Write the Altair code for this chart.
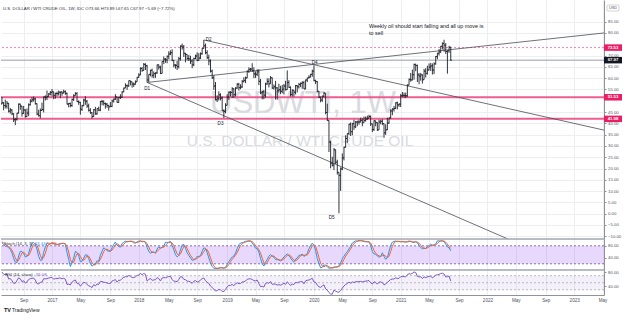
import altair as alt
import pandas as pd

FONT = "Liberation Sans"
GRID = "#eceef2"
AXIS = "#8f929b"
LABEL = "#50535e"
BAR = "#1b1e27"
PINK = "#ef5d8f"
PINK_BOX = "#e91e63"
W = 603

# ---------------- weekly USDWTI bars (Monday weeks) ----------------
first_week = "2016-02-01"
first_open = 33.6

high_pre = [34.0, 31.8, 31.5, 33.5, 36.2, 38.8, 40.5, 41.9, 39.8, 39.9, 42.4, 44.5, 46.8, 46.7, 46.6, 48.8, 50.2]
low_pre = [29.9, 26.1, 28.6, 29.3, 32.5, 35.3, 36.0, 38.8, 35.9, 35.2, 39.6, 37.6, 42.6, 43.0, 43.3, 46.0, 47.5]
close_pre = [30.9, 29.4, 29.6, 32.8, 35.9, 38.5, 39.4, 39.5, 36.8, 39.7, 40.4, 43.7, 45.9, 44.7, 46.2, 47.8, 49.3]

high_2016 = [50.2, 51.7, 49.4, 50.5, 49.9, 49.0, 46.8, 46.3, 44.5, 42.3, 44.6, 48.8, 48.7, 47.8, 47.7, 46.3, 46.6, 48.8, 50.7, 51.6, 51.9, 51.3, 48.8, 46.0, 46.6, 49.2, 51.8, 52.4, 54.5, 53.4, 54.3]
low_2016 = [47.8, 48.5, 45.8, 46.6, 46.5, 44.8, 44.3, 43.6, 40.6, 39.2, 41.2, 44.4, 46.0, 43.0, 44.2, 42.5, 42.9, 43.2, 47.9, 49.3, 49.6, 48.3, 43.6, 43.0, 42.2, 45.6, 44.8, 50.1, 50.3, 51.8, 52.4]
close_2016 = [48.6, 49.1, 47.9, 47.6, 48.9, 45.4, 45.9, 44.2, 41.6, 41.8, 44.5, 48.5, 47.6, 44.4, 45.9, 43.0, 44.5, 48.2, 49.8, 50.4, 50.8, 48.7, 44.1, 43.4, 45.7, 46.1, 51.7, 51.5, 51.9, 53.0, 53.7]

high_2017 = [55.2, 54.0, 53.6, 54.0, 54.5, 54.0, 54.1, 54.9, 54.6, 53.6, 49.0, 49.2, 50.9, 52.9, 53.8, 53.8, 50.2, 49.5, 48.2, 50.9, 52.0, 50.3, 48.7, 46.7, 44.9, 46.3, 47.3, 46.6, 47.4, 49.9, 50.4, 50.2, 49.2, 49.0, 48.2, 49.4, 50.5, 51.0, 52.9, 51.7, 51.7, 52.9, 54.2, 55.8, 57.7, 57.2, 58.9, 58.8, 58.4, 58.1, 59.0, 60.5]
low_2017 = [51.9, 50.7, 50.9, 51.9, 52.3, 51.2, 52.2, 53.3, 52.6, 48.4, 47.1, 47.1, 47.3, 49.9, 52.2, 49.5, 48.2, 43.8, 45.5, 47.6, 48.2, 46.9, 45.2, 44.2, 42.1, 42.8, 43.8, 43.8, 45.4, 45.4, 48.0, 47.9, 46.5, 46.9, 45.6, 47.3, 47.2, 49.2, 50.4, 49.1, 49.1, 50.8, 51.3, 53.8, 55.6, 54.8, 56.1, 56.8, 55.8, 56.1, 57.1, 58.7]
close_2017 = [54.0, 52.4, 53.2, 53.2, 53.8, 53.9, 53.4, 54.0, 53.3, 48.5, 48.8, 47.9, 50.6, 52.2, 53.2, 49.6, 49.3, 46.2, 47.8, 50.3, 49.8, 47.7, 45.8, 44.7, 43.0, 46.0, 44.2, 46.5, 45.8, 49.7, 49.6, 48.8, 48.5, 47.9, 47.3, 47.5, 49.9, 50.7, 51.7, 49.3, 51.5, 51.5, 53.9, 55.6, 56.7, 56.6, 58.9, 58.4, 57.4, 57.3, 58.4, 60.4]

high_2018 = [62.2, 64.8, 64.9, 66.7, 66.6, 65.9, 61.7, 63.7, 64.2, 63.0, 62.6, 66.0, 66.0, 65.5, 67.5, 69.6, 68.9, 70.0, 71.9, 72.3, 72.8, 68.0, 66.2, 67.6, 69.4, 74.5, 75.3, 74.7, 71.2, 70.0, 70.3, 69.9, 68.4, 69.1, 70.4, 71.4, 71.1, 71.4, 73.3, 76.9, 75.3, 72.4, 70.4, 68.3, 63.8, 61.3, 58.3, 52.4, 54.2, 53.3, 51.9, 46.2, 48.9]
low_2018 = [60.1, 61.3, 62.8, 63.4, 63.6, 58.1, 58.2, 60.8, 60.2, 60.0, 60.1, 61.9, 63.8, 61.8, 62.1, 66.2, 66.8, 66.6, 68.4, 70.2, 67.5, 64.8, 64.2, 63.6, 64.3, 67.8, 72.6, 69.4, 67.0, 67.9, 67.6, 66.3, 64.4, 65.3, 68.4, 67.5, 67.7, 68.5, 70.4, 73.1, 70.6, 68.5, 65.7, 62.5, 59.6, 54.8, 50.2, 49.4, 50.1, 50.2, 45.5, 42.4, 44.4]
close_2018 = [61.4, 64.3, 63.4, 66.1, 65.5, 59.2, 61.7, 63.5, 61.2, 62.0, 62.3, 65.9, 64.9, 62.1, 67.4, 68.4, 68.1, 69.7, 70.7, 71.3, 67.9, 65.8, 65.7, 65.1, 68.6, 74.2, 73.8, 71.0, 70.5, 68.7, 68.5, 67.6, 65.9, 68.7, 69.8, 67.8, 68.9, 70.8, 73.2, 74.3, 71.3, 69.1, 67.6, 63.1, 60.2, 56.5, 50.4, 50.9, 52.6, 51.2, 45.6, 45.3, 48.0]

high_2019 = [52.9, 54.0, 54.2, 56.0, 55.5, 56.0, 57.8, 57.9, 57.3, 59.2, 60.4, 60.7, 63.4, 64.8, 64.5, 66.6, 64.8, 63.0, 63.9, 64.0, 59.7, 54.5, 54.8, 58.0, 59.9, 59.9, 60.9, 60.3, 57.2, 58.8, 56.0, 57.5, 56.6, 57.0, 57.4, 58.8, 63.4, 59.1, 56.4, 55.0, 54.7, 57.0, 56.9, 57.9, 58.1, 58.6, 58.8, 59.4, 60.2, 61.3, 61.9, 63.8]
low_2019 = [48.0, 50.4, 51.9, 51.3, 51.2, 51.9, 55.3, 54.5, 55.1, 55.7, 58.1, 57.8, 60.0, 62.3, 63.0, 62.8, 60.0, 60.1, 60.9, 56.9, 52.9, 50.6, 50.7, 51.4, 57.1, 55.9, 57.6, 55.3, 55.0, 50.5, 50.5, 53.6, 52.9, 53.3, 52.8, 54.5, 57.9, 55.7, 51.9, 51.9, 51.8, 52.8, 53.7, 55.4, 56.0, 55.3, 55.2, 55.3, 58.3, 59.9, 60.4, 60.6]
close_2019 = [51.6, 53.8, 53.7, 55.3, 52.7, 55.6, 57.3, 55.8, 56.1, 58.5, 59.0, 60.1, 63.1, 63.9, 64.0, 63.3, 61.9, 61.7, 62.8, 58.6, 53.5, 54.0, 52.5, 57.4, 58.5, 57.5, 60.2, 55.6, 56.2, 55.7, 54.5, 54.9, 54.2, 55.1, 56.5, 54.9, 58.1, 55.9, 52.8, 54.7, 53.8, 56.7, 56.2, 57.2, 57.7, 58.0, 55.2, 59.2, 60.1, 60.4, 61.7, 63.1]

high_2020 = [65.6, 59.3, 58.7, 54.3, 51.8, 52.3, 54.0, 53.4, 48.7, 34.6, 32.3, 25.2, 29.1, 28.4, 23.9, 18.3, 20.5, 26.7, 29.7, 34.7, 35.5, 39.8, 40.4, 40.2, 41.6, 41.0, 41.2, 41.7, 42.5, 42.2, 43.0, 43.0, 43.4, 43.8, 43.5, 39.9, 41.4, 41.2, 40.5, 41.6, 41.6, 41.8, 40.0, 39.6, 42.5, 42.5, 46.3, 46.7, 47.7, 49.3, 49.6, 48.8]
low_2020 = [58.6, 57.4, 53.8, 51.2, 49.3, 49.5, 51.5, 44.0, 41.1, 27.3, 20.1, 20.9, 19.3, 22.0, 17.3, 0.2, 10.1, 19.3, 23.6, 29.3, 31.4, 34.8, 34.4, 34.7, 37.1, 37.9, 38.7, 39.4, 40.4, 38.7, 40.3, 40.8, 41.5, 42.2, 38.8, 36.1, 36.6, 38.7, 36.6, 37.2, 39.6, 39.2, 33.6, 34.9, 37.0, 39.8, 42.1, 43.6, 45.2, 46.3, 46.2, 47.3]
close_2020 = [59.0, 58.5, 54.2, 51.6, 50.3, 52.0, 53.4, 44.8, 41.3, 31.7, 22.4, 21.5, 28.3, 22.8, 18.3, 17.0, 19.8, 24.7, 29.4, 33.3, 35.5, 39.6, 36.3, 39.8, 38.5, 40.6, 40.6, 40.6, 41.3, 40.3, 41.2, 42.0, 42.3, 43.0, 39.8, 37.3, 41.1, 40.3, 37.1, 40.6, 40.9, 39.9, 35.8, 37.1, 40.1, 42.4, 45.5, 46.3, 46.6, 49.1, 48.2, 48.5]

high_2021 = [53.0, 53.9, 53.6, 53.6, 57.3, 59.8, 62.3, 63.8, 66.4, 66.4, 66.0, 62.3, 62.3, 61.7, 64.1, 64.4, 65.5, 66.5, 66.7, 66.5, 67.0, 69.8, 71.2, 72.9, 74.3, 75.8, 77.0, 75.5, 72.3, 74.3, 73.89]
low_2021 = [47.2, 51.6, 51.4, 51.2, 51.7, 56.9, 58.4, 59.0, 59.3, 63.1, 58.3, 57.3, 58.9, 57.6, 59.3, 60.3, 61.6, 63.5, 63.2, 61.6, 61.8, 66.0, 68.4, 70.0, 71.2, 72.7, 71.7, 70.7, 62.0, 71.2, 67.65]
close_2021 = [52.2, 52.4, 52.3, 52.2, 56.9, 59.5, 59.2, 61.5, 66.1, 65.6, 61.4, 60.9, 61.5, 59.3, 63.1, 62.1, 63.6, 64.9, 65.4, 63.6, 66.3, 69.6, 71.0, 71.6, 74.1, 75.4, 74.6, 71.8, 72.1, 73.66, 67.97]

# horizontal levels and their labels
level_dashed = [73.53]
level_last = [67.97]
level_zones = [51.53, 41.98]

# price-axis tick values (75 and 50 sit under the level labels)
price_ticks = [-10, -5, 0, 5, 10, 15, 20, 25, 30, 35, 40, 45, 55, 60, 65, 70, 80, 85]

# trend lines (start date, start price, end date, end price)
trend_start_dates = ["2018-10-01", "2018-02-05", "2018-02-05"]
trend_start_prices = [76.9, 58.1, 58.1]
trend_end_dates = ["2023-05-07", "2023-05-07", "2022-03-30"]
trend_end_prices = [37.0, 80.0, -11.2]

# swing point labels
d_labels = ["D1", "D2", "D3", "D4", "D5"]
d_dates = ["2018-02-05", "2018-10-21", "2018-12-10", "2020-01-09", "2020-03-20"]
d_prices = [55.2, 76.9, 39.6, 66.9, -1.7]

header = "U.S. DOLLAR / WTI CRUDE OIL, 1W, IDC  O73.66 H73.89 L67.65 C67.97 \u22125.69 (\u22127.72%)"
note_lines = ["Weekly oil should start falling and all up move is", "to sell"]

# ---------------- data frames ----------------
highs = high_pre + high_2016 + high_2017 + high_2018 + high_2019 + high_2020 + high_2021
lows = low_pre + low_2016 + low_2017 + low_2018 + low_2019 + low_2020 + low_2021
closes = close_pre + close_2016 + close_2017 + close_2018 + close_2019 + close_2020 + close_2021
dates = pd.date_range(first_week, periods=len(closes), freq="7D")
opens = [first_open] + closes[:-1]

df = pd.DataFrame({"date": dates.strftime("%Y-%m-%d"), "open": opens, "high": highs,
                   "low": lows, "close": closes})
df["high"] = df[["open", "high", "close"]].max(axis=1)
df["low"] = df[["open", "low", "close"]].min(axis=1)

# Stochastic (14, 3, 3) and RSI (14) derived from the bars
hh = df["high"].rolling(14).max()
ll = df["low"].rolling(14).min()
raw_k = 100 * (df["close"] - ll) / (hh - ll)
df["k"] = raw_k.rolling(3).mean()
df["d"] = df["k"].rolling(3).mean()
delta = df["close"].diff().fillna(0)
gain = delta.clip(lower=0).ewm(alpha=1 / 14, adjust=False).mean()
loss = (-delta.clip(upper=0)).ewm(alpha=1 / 14, adjust=False).mean()
df["rsi"] = 100 - 100 / (1 + gain / loss)
ind = df.dropna(subset=["k", "d", "rsi"]).iloc[1:].copy()
k_last, d_last, rsi_last = ind["k"].iloc[-1], ind["d"].iloc[-1], ind["rsi"].iloc[-1]

trend = pd.DataFrame({"date": trend_start_dates, "price": trend_start_prices,
                      "date2": trend_end_dates, "price2": trend_end_prices})
dlab = pd.DataFrame({"date": d_dates, "price": d_prices, "label": d_labels})


def lv(vals):
    return pd.DataFrame({"level": vals, "lbl": [f"{v:.2f}" for v in vals]})


one = pd.DataFrame({"a": [0]})

# ---------------- scales / axes ----------------
XSCALE = alt.Scale(type="utc", domain=[alt.DateTime(year=2016, month=6, date=2, utc=True),
                                       alt.DateTime(year=2023, month=5, date=7, utc=True)])
tick_days = [(2016, 9, 5), (2017, 1, 2), (2017, 5, 1), (2017, 9, 4), (2018, 1, 1), (2018, 5, 7),
             (2018, 9, 3), (2019, 1, 7), (2019, 5, 6), (2019, 9, 2), (2020, 1, 6), (2020, 5, 4),
             (2020, 9, 7), (2021, 1, 4), (2021, 5, 3), (2021, 9, 6), (2022, 1, 3), (2022, 5, 2),
             (2022, 9, 5), (2023, 1, 2), (2023, 5, 1)]
XTICKS = [alt.DateTime(year=y, month=m, date=d, utc=True) for y, m, d in tick_days]
LBL = "utcFormat(datum.value, '%m') == '01' ? utcFormat(datum.value, '%Y') : utcFormat(datum.value, '%b')"


def x_enc(show=False):
    return alt.X("date:T", scale=XSCALE, title=None,
                 axis=alt.Axis(values=XTICKS, labelExpr=LBL, grid=True, gridColor=GRID, gridWidth=1,
                               ticks=False, labels=show, domain=show, domainColor=AXIS,
                               labelFont=FONT, labelFontSize=4.6, labelColor=LABEL, labelPadding=2.5,
                               labelOverlap=False, labelFlush=False))


def y_axis(vals, grid):
    return alt.Axis(orient="right", values=vals, format=".2f", grid=grid, gridColor=GRID,
                    tickSize=2, tickColor=AXIS, domainColor=AXIS, labelFont=FONT,
                    labelFontSize=4.3, labelColor=LABEL, labelPadding=1.5,
                    labelOverlap=False, labelFlush=False)


def y_main(f):
    return alt.Y(f"{f}:Q", title=None, scale=alt.Scale(domain=[-11.2, 94.6], nice=False, zero=False),
                 axis=y_axis(price_ticks, True))


def y_sto(f):
    return alt.Y(f"{f}:Q", title=None, scale=alt.Scale(domain=[-0.7, 102.7], nice=False, zero=False),
                 axis=y_axis([40, 80], False))


def y_rsi(f):
    return alt.Y(f"{f}:Q", title=None, scale=alt.Scale(domain=[15, 86.3], nice=False, zero=False),
                 axis=y_axis([40, 80], False))


def txt(text, x, y, size, color="#131722", align="left", **kw):
    return alt.Chart(one).mark_text(align=align, baseline="middle", font=FONT, fontSize=size,
                                    color=color, **kw).encode(
        x=alt.value(x), y=alt.value(y), text=alt.value(text))


# ---------------- main pane ----------------
wm1 = txt("USDWTI, 1W", 302, 104, 31, color="#d9dbdf", align="center")
wm2 = txt("U.S. DOLLAR / WTI CRUDE OIL", 299, 141, 15.5, color="#d9dbdf", align="center")

dashed = alt.Chart(lv(level_dashed)).mark_rule(color=PINK, strokeWidth=1, strokeDash=[2, 2], opacity=0.8).encode(y=y_main("level"))
last_line = alt.Chart(lv(level_last)).mark_rule(color="#9a9da6", strokeWidth=1).encode(y=y_main("level"))
zones = alt.Chart(lv(level_zones)).mark_rule(color=PINK, strokeWidth=2).encode(y=y_main("level"))

trend_lines = alt.Chart(trend).mark_rule(color="#4a4d55", strokeWidth=0.8, clip=True).encode(
    x=x_enc(), x2="date2:T", y=y_main("price"), y2="price2:Q")

hl = alt.Chart(df).mark_rule(color=BAR, strokeWidth=0.9, clip=True).encode(
    x=x_enc(), y=y_main("low"), y2="high:Q")
op = alt.Chart(df).mark_rule(color=BAR, strokeWidth=0.9, clip=True, xOffset=-1.1, x2Offset=0).encode(
    x=x_enc(), x2="date:T", y=y_main("open"))
cl = alt.Chart(df).mark_rule(color=BAR, strokeWidth=0.9, clip=True, xOffset=0, x2Offset=1.1).encode(
    x=x_enc(), x2="date:T", y=y_main("close"))

dtext = alt.Chart(dlab).mark_text(font=FONT, fontSize=4.6, color="#131722", baseline="middle").encode(
    x=x_enc(), y=y_main("price"), text="label:N")

note = alt.Chart(one).mark_text(align="left", baseline="middle", font=FONT, fontSize=5.4,
                                color="#131722", lineHeight=6.6).encode(
    x=alt.value(368), y=alt.value(26), text=alt.value(note_lines))
head = txt(header, 2, 9, 4.3, color="#2a2e39")


def level_box(vals, fill):
    box = alt.Chart(lv(vals)).mark_tick(orient="horizontal", size=18, thickness=6.5, color=fill, opacity=1).encode(
        x=alt.value(612), y=y_main("level"))
    lab = alt.Chart(lv(vals)).mark_text(font=FONT, fontSize=4.3, color="white", fontWeight="bold",
                                        baseline="middle").encode(
        x=alt.value(612), y=y_main("level"), text="lbl:N")
    return box + lab


usd_box = alt.Chart(one).mark_rect(fill="white", stroke="#b2b5be", strokeWidth=0.6, cornerRadius=1).encode(
    x=alt.value(606), x2=alt.value(618), y=alt.value(5), y2=alt.value(11))
usd_txt = txt("USD", 612, 8, 3.8, color=LABEL, align="center")

main = alt.layer(
    wm1, wm2, dashed, last_line, zones, trend_lines, hl, op, cl, dtext, note, head,
    level_box(level_dashed, PINK_BOX), level_box(level_last, "#131722"), level_box(level_zones, PINK_BOX),
    usd_box, usd_txt,
).properties(width=W, height=239)

# ---------------- stochastic pane ----------------
sep = alt.Chart(one).mark_rule(color="#a3a6af", strokeWidth=1.4).encode(
    x=alt.value(0), x2=alt.value(603), y=alt.value(0))
sband = alt.Chart(pd.DataFrame({"lo": [20], "hi": [80]})).mark_rect(color="#8c3cf0", opacity=0.2).encode(
    x=alt.value(0), x2=alt.value(W), y=y_sto("lo"), y2="hi:Q")
slines = alt.Chart(lv([20, 80])).mark_rule(color="#6c4f99", strokeWidth=0.8, strokeDash=[2, 2]).encode(y=y_sto("level"))
kline = alt.Chart(ind).mark_line(color="#2196f3", strokeWidth=1, clip=True).encode(x=x_enc(), y=y_sto("k"))
dline = alt.Chart(ind).mark_line(color="#f4622a", strokeWidth=1, clip=True).encode(x=x_enc(), y=y_sto("d"))
st1 = txt("Stoch (14, 3, 3)", 3, 4.5, 4.2, color="#2a2e39")
st2 = txt(f"{k_last:.2f}", 34, 4.5, 4.2, color="#2196f3")
st3 = txt(f"{d_last:.2f}", 45, 4.5, 4.2, color="#f4622a")
stoch = alt.layer(sband, slines, kline, dline, sep, st1, st2, st3).properties(width=W, height=31)

# ---------------- RSI pane ----------------
rband = alt.Chart(pd.DataFrame({"lo": [30], "hi": [70]})).mark_rect(color="#7e57c2", opacity=0.09).encode(
    x=alt.value(0), x2=alt.value(W), y=y_rsi("lo"), y2="hi:Q")
rlines = alt.Chart(lv([30, 50, 70])).mark_rule(color="#a8abb3", strokeWidth=0.8, strokeDash=[2, 2]).encode(y=y_rsi("level"))
rline = alt.Chart(ind).mark_line(color="#7e57c2", strokeWidth=1, clip=True).encode(x=x_enc(True), y=y_rsi("rsi"))
r1 = txt("RSI (14, close)", 4, 4.5, 4.2, color="#2a2e39")
r2 = txt(f"{rsi_last:.2f}", 35, 4.5, 4.2, color="#7e57c2")
logo1 = txt("TV", 3, 40, 5.5, color="#131722", fontWeight="bold")
logo2 = txt("TradingView", 11, 40, 5, color="#131722")
rsi = alt.layer(rband, rlines, rline, sep, r1, r2, logo1, logo2).properties(width=W, height=25)

chart = alt.vconcat(main, stoch, rsi, spacing=0, bounds="flush").resolve_scale(
    x="shared", y="independent").properties(padding=0, background="white").configure_view(stroke=None)

chart.save("out.html", embed_options={"renderer": "svg", "actions": False})
